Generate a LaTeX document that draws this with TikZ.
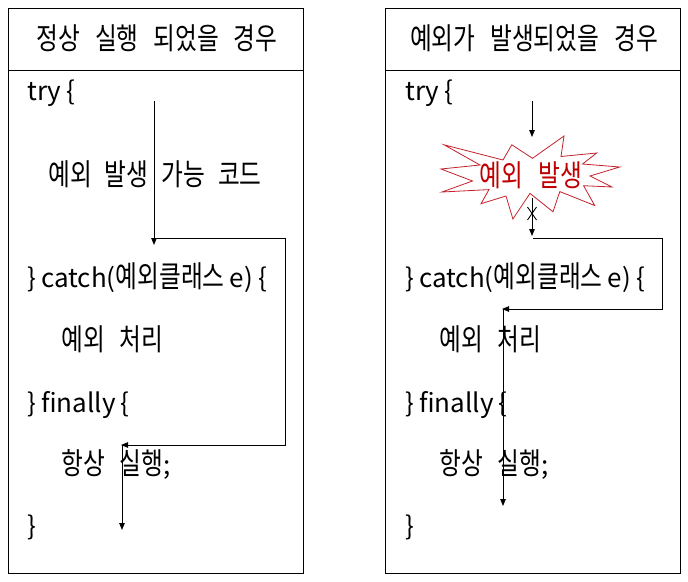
\documentclass[tikz,border=0pt]{standalone}
\usepackage{fontspec}
\setmainfont{Noto Sans CJK KR}[WordSpace=0.9]
\newfontfamily\hangulfont{Noto Sans CJK KR}[FakeStretch=0.79, WordSpace=2.8]
\newcommand\ko[1]{{\hangulfont\fontsize{30}{33}\selectfont #1}}
\newcommand\kosp{\hspace*{13pt}}
\usetikzlibrary{arrows.meta}
\definecolor{burstred}{RGB}{192,0,0}
\definecolor{burstline}{RGB}{195,35,45}
\tikzset{
  txt/.style={anchor=base west, inner sep=0pt, font=\fontsize{26}{30}\selectfont},
  ttl/.style={anchor=base, inner sep=0pt, font=\fontsize{26}{30}\selectfont},
  flow/.style={line width=0.9pt, -{Triangle[length=7pt,width=5.5pt]}},
  plainline/.style={line width=0.9pt},
  frame/.style={line width=1pt},
  burst/.style={draw=burstline, line width=0.8pt, fill=white, line join=miter},
}
\begin{document}
\begin{tikzpicture}[x=1pt,y=-1pt]
\useasboundingbox (0,0) rectangle (688,581);
% panels
\draw[frame] (8,8) rectangle (303,573);
\draw[frame] (8,70) -- (303,70);
\draw[frame] (385,8) rectangle (680,573);
\draw[frame] (385,70) -- (680,70);
% left texts
\node[ttl] (lt) at (157,49) {\ko{정상 실행 되었을 경우}};
\node[txt] (ltry) at (27,100) {try \{};
\node[txt] (lcode) at (48,185) {\ko{예외\kosp 발생\kosp 가능\kosp 코드}};
\node[txt] (lcatch) at (27,287) {\} catch(\ko{예외클래스} e) \{};
\node[txt] (lhandle) at (61,350) {\ko{예외 처리}};
\node[txt] (lfin) at (27,412) {\} finally \{};
\node[txt] (lalways) at (61,474) {\ko{항상 실행};};
\node[txt] (lend) at (27,535) {\}};
% right texts
\node[ttl] (rt) at (534,49) {\ko{예외가 발생되었을 경우}};
\node[txt] (rtry) at (405,100) {try \{};
\node[txt] (rcatch) at (405,287) {\} catch(\ko{예외클래스} e) \{};
\node[txt] (rhandle) at (439,350) {\ko{예외 처리}};
\node[txt] (rfin) at (405,412) {\} finally \{};
\node[txt] (ralways) at (439,474) {\ko{항상 실행};};
\node[txt] (rend) at (405,535) {\}};
% starburst (explosion shape)
\draw[burst] (532.5,158.3) -- (564,136) -- (561,156.5) -- (596.7,153) -- (582.5,164)
  -- (619.7,167) -- (590,176) -- (612,187) -- (583.6,185.7) -- (594.7,205.5)
  -- (559.8,191.6) -- (553,211.8) -- (530,193.4) -- (512.9,219) -- (506,196)
  -- (481,203.7) -- (489,189.6) -- (442,192) -- (472.5,181) -- (441,169)
  -- (480,165) -- (444,144.8) -- (503,160) -- (511.8,144.8) -- cycle;
\node[ttl, text=burstred] (bursttext) at (531,186) {\ko{예외\hspace*{15pt}발생}};
% left connectors
\coordinate (L1) at (154,101); \coordinate (L2) at (154,245);
\coordinate (L3) at (154,238); \coordinate (L4) at (285,238);
\coordinate (L5) at (285,445); \coordinate (L6) at (121,445);
\coordinate (L7) at (122,445); \coordinate (L8) at (122,530);
\draw[flow] (L1) -- (L2);
\draw[flow] (L3) -- (L4) -- (L5) -- (L6);
\draw[flow] (L7) -- (L8);
% right connectors
\coordinate (R1) at (532,101); \coordinate (R2) at (532,137);
\coordinate (R3) at (532,198); \coordinate (R4) at (532,236);
\coordinate (R5) at (533,238); \coordinate (R6) at (662,238);
\coordinate (R7) at (662,309); \coordinate (R8) at (502,309);
\coordinate (R9) at (503,309); \coordinate (R10) at (503,506);
\draw[flow] (R1) -- (R2);
\draw[flow] (R3) -- (R4);
\draw[flow] (R5) -- (R6) -- (R7) -- (R8);
\draw[flow] (R9) -- (R10);
% X mark on blocked path
\coordinate (X1) at (527.5,207); \coordinate (X2) at (536.5,220);
\coordinate (X3) at (536.5,207); \coordinate (X4) at (527.5,220);
\draw[plainline] (X1) -- (X2);
\draw[plainline] (X3) -- (X4);
\end{tikzpicture}
\end{document}
